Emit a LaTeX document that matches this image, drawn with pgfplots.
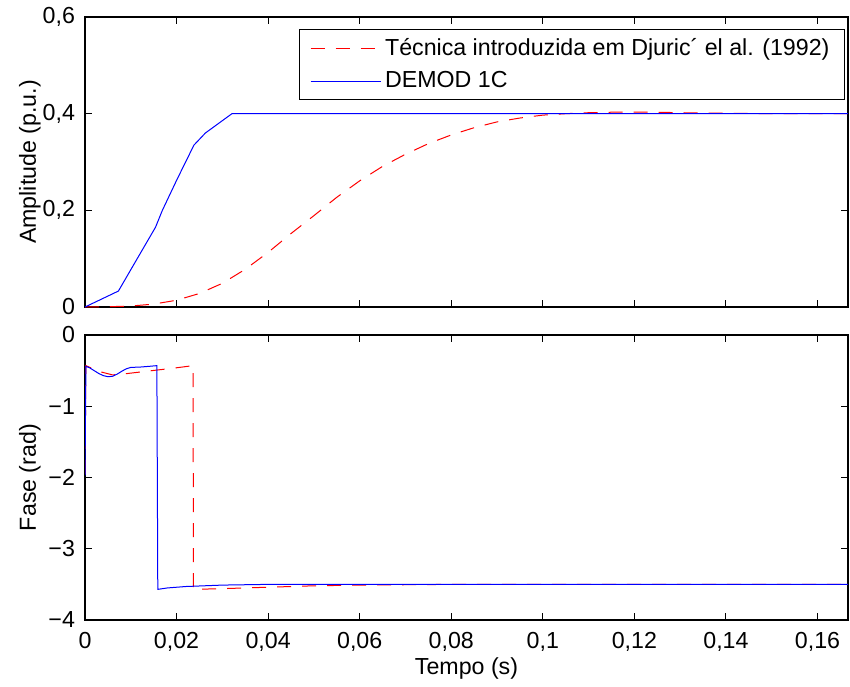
\documentclass[border=0pt]{standalone}
\usepackage{fontspec}
\setmainfont{Liberation Sans}
\usepackage{pgfplots}
\pgfplotsset{compat=1.18}

\definecolor{mred}{RGB}{255,0,0}
\definecolor{mblue}{RGB}{0,0,255}

\newcommand{\chartfont}{\fontsize{11.6pt}{13pt}\selectfont}

\pgfplotsset{
  mstyle/.style={
    scale only axis,
    width=381.5pt,
    xmin=0, xmax=0.166667,
    tick align=inside,
    major tick length=3.5pt,
    axis line style={line width=0.8pt},
    every tick/.style={black, line width=0.5pt},
    xtick={0,0.02,0.04,0.06,0.08,0.1,0.12,0.14,0.16},
    /pgf/number format/assume math mode=true,
    tick label style={font=\chartfont},
    yticklabel style={xshift=-1.5pt},
    xticklabel style={yshift=-2.5pt},
    label style={font=\chartfont},
    ylabel style={at={(axis description cs:-0.0721,0.5)}, anchor=center},
    xlabel style={at={(axis description cs:0.5,0)}, anchor=center, yshift=-24pt},
  },
  redline/.style={color=mred, line width=0.5pt, dash pattern=on 7pt off 5.5pt},
  blueline/.style={color=mblue, line width=0.5pt},
}

\begin{document}
\begin{tikzpicture}
\path[use as bounding box] (0pt,0pt) rectangle (425pt,343pt);

% Amplitude
\begin{axis}[mstyle,
  at={(42.5pt,189.5pt)}, anchor=south west,
  height=145pt,
  ymin=0, ymax=0.6,
  ytick={0,0.2,0.4,0.6},
  yticklabels={0,{0,2},{0,4},{0,6}},
  xticklabels={},
  ylabel={Amplitude (p.u.)},
  legend image code/.code={\draw[#1] (0pt,0pt) -- (35pt,0pt);},
  legend style={at={(1,1)}, anchor=north east, xshift=-1.5pt, yshift=-6pt,
    draw=black, line width=0.5pt, legend cell align=left,
    font=\chartfont,
    row sep=2.5pt, inner xsep=5.5pt, inner ysep=2.5pt},
]
\addplot[redline] coordinates {
(0,0) (0.005,0.0005) (0.010,0.002) (0.015,0.006) (0.020,0.014)
(0.025,0.028) (0.030,0.049) (0.035,0.078) (0.040,0.113) (0.045,0.152)
(0.050,0.189) (0.055,0.227) (0.060,0.261) (0.065,0.291) (0.070,0.316)
(0.075,0.338) (0.080,0.356) (0.085,0.371) (0.090,0.383) (0.095,0.391)
(0.100,0.397) (0.105,0.400) (0.110,0.402) (0.115,0.403) (0.120,0.403)
(0.125,0.403) (0.130,0.402) (0.140,0.401) (0.150,0.400) (0.166667,0.400)
};
\addlegendentry{Técnica introduzida em Djuric´ el al. (1992)}
\addplot[blueline] coordinates {
(0,0) (0.0073,0.033) (0.0103,0.082) (0.0154,0.165) (0.0169,0.200)
(0.0200,0.262) (0.0238,0.335) (0.0263,0.360) (0.0321,0.400) (0.166667,0.400)
};
\addlegendentry{DEMOD 1C}
\end{axis}

% Fase
\begin{axis}[mstyle,
  at={(42.5pt,33pt)}, anchor=south west,
  height=142.5pt,
  ymin=-4, ymax=0,
  ytick={-4,-3,-2,-1,0},
  yticklabels={−4,−3,−2,−1,0},
  xticklabels={0,{0,02},{0,04},{0,06},{0,08},{0,1},{0,12},{0,14},{0,16}},
  ylabel={Fase (rad)},
  xlabel={Tempo (s)},
]
\addplot[redline] coordinates {
(0,-1.95) (0.0002,-0.43) (0.003,-0.51) (0.006,-0.56) (0.008,-0.55)
(0.012,-0.52) (0.016,-0.49) (0.020,-0.46) (0.0236,-0.43) (0.0237,-3.57)
(0.030,-3.56) (0.040,-3.54) (0.050,-3.52) (0.060,-3.51) (0.080,-3.50)
(0.166667,-3.50)
};
\addplot[blueline] coordinates {
(0,-1.97) (0.0002,-0.44) (0.001,-0.46) (0.002,-0.50) (0.003,-0.54)
(0.004,-0.57) (0.005,-0.585) (0.006,-0.58) (0.007,-0.55) (0.008,-0.51)
(0.009,-0.475) (0.010,-0.455) (0.012,-0.45) (0.014,-0.44) (0.0157,-0.43)
(0.0159,-3.57) (0.018,-3.55) (0.022,-3.53) (0.030,-3.51) (0.040,-3.50)
(0.166667,-3.50)
};
\end{axis}
\end{tikzpicture}
\end{document}
